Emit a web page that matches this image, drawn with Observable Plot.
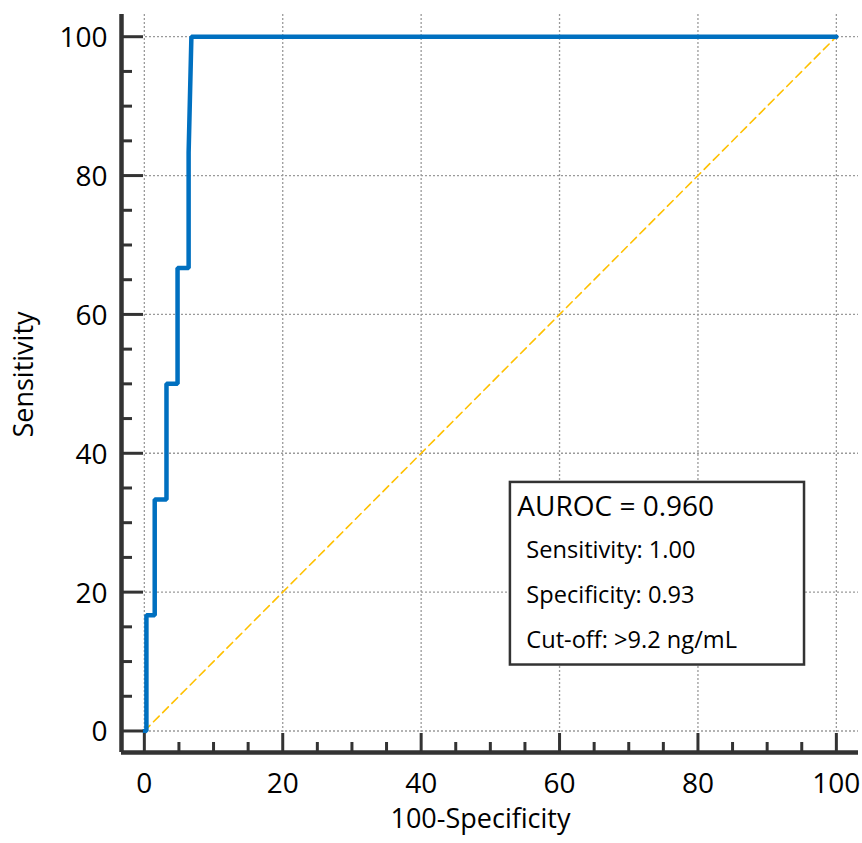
<!DOCTYPE html>
<html>
<head>
<meta charset="utf-8">
<script src="https://cdn.jsdelivr.net/npm/d3@7"></script>
<script src="https://cdn.jsdelivr.net/npm/@observablehq/plot@0.6"></script>
<style>
  html, body { margin: 0; padding: 0; background: #fff; }
  #chart svg { display: block; }
</style>
</head>
<body>
<div id="chart"></div>
<script>
// ROC curve points (100-Specificity, Sensitivity)
const fpr = [0, 0.3, 0.3, 1.5, 1.5, 3.2, 3.2, 4.8, 4.8, 6.4, 6.4, 6.8, 100];
const tpr = [0, 0, 16.67, 16.67, 33.33, 33.33, 50, 50, 66.67, 66.67, 83.33, 100, 100];
// reference diagonal
const diagX = [0, 100];
const diagY = [0, 100];
// ticks
const majorTicks = [0, 20, 40, 60, 80, 100];
const minorTicks = [5, 10, 15, 25, 30, 35, 45, 50, 55, 65, 70, 75, 85, 90, 95];
// labels
const xLabel = "100-Specificity";
const yLabel = "Sensitivity";
const aurocLabel = "AUROC = 0.960";
const statLines = ["Sensitivity: 1.00", "Specificity: 0.93", "Cut-off: >9.2 ng/mL"];

const roc = fpr.map((x, i) => ({x, y: tpr[i]}));
const diag = diagX.map((x, i) => ({x, y: diagY[i]}));

const xDom = [-3.3, 103.2];
const yDom = [-3.1, 103.2];
const W = 862, H = 843;
const mL = 121, mR = 4, mT = 14, mB = 91;
const frameW = W - mL - mR, frameH = H - mT - mB;
const axisColor = "#333";
const font = "'Open Sans', sans-serif";

const chart = Plot.plot({
  width: W,
  height: H,
  marginLeft: mL,
  marginRight: mR,
  marginTop: mT,
  marginBottom: mB,
  style: {fontFamily: font, fontSize: "27px", color: "#000", background: "#fff"},
  x: {domain: xDom},
  y: {domain: yDom},
  marks: [
    Plot.gridX(majorTicks, {stroke: "#9a9a9a", strokeOpacity: 1, strokeWidth: 1.3, strokeDasharray: "2,2"}),
    Plot.gridY(majorTicks, {stroke: "#9a9a9a", strokeOpacity: 1, strokeWidth: 1.3, strokeDasharray: "2,2"}),
    Plot.line(diag, {x: "x", y: "y", stroke: "#FFC000", strokeWidth: 1.6, strokeDasharray: "8,5"}),
    Plot.line(roc, {x: "x", y: "y", stroke: "#0070C0", strokeWidth: 4.5, strokeLinejoin: "miter"}),
    // annotation box
    Plot.rect([0], {x1: 52.9, x2: 95.4, y1: 9.5, y2: 35.8, fill: "#fff", stroke: axisColor, strokeWidth: 2.5}),
    Plot.text([aurocLabel], {x: 53.9, y: 31.0, text: d => d, textAnchor: "start", lineAnchor: "bottom", fontSize: 28, fill: "#000"}),
    Plot.text(statLines, {x: 55.2, y: (d, i) => 24.9 - i * 6.45, text: d => d, textAnchor: "start", lineAnchor: "bottom", fontSize: 23.6, fill: "#000"}),
    // ticks (pointing inward)
    Plot.tickY(majorTicks, {y: d => d, stroke: axisColor, strokeWidth: 3, insetRight: frameW - 22}),
    Plot.tickY(minorTicks, {y: d => d, stroke: axisColor, strokeWidth: 3, insetRight: frameW - 11}),
    Plot.tickX(majorTicks, {x: d => d, stroke: axisColor, strokeWidth: 3, insetTop: frameH - 19}),
    Plot.tickX(minorTicks, {x: d => d, stroke: axisColor, strokeWidth: 3, insetTop: frameH - 10}),
    // axis lines
    Plot.ruleX([xDom[0]], {stroke: axisColor, strokeWidth: 4.5}),
    Plot.ruleY([yDom[0]], {stroke: axisColor, strokeWidth: 4.5}),
    // tick labels
    Plot.axisX(majorTicks, {tickSize: 0, tickPadding: 21, fontSize: 28, label: null}),
    Plot.axisY(majorTicks, {tickSize: 0, tickPadding: 14, fontSize: 28, dy: 1.5, label: null}),
    // axis titles
    Plot.text([xLabel], {frameAnchor: "bottom", text: d => d, dx: -9.5, dy: 75, textAnchor: "middle", lineAnchor: "bottom", fontSize: 27, fill: "#000"}),
    Plot.text([yLabel], {frameAnchor: "left", text: d => d, rotate: -90, dx: -89, dy: -9, textAnchor: "middle", lineAnchor: "bottom", fontSize: 27, fill: "#000"})
  ]
});
document.getElementById("chart").appendChild(chart);
</script>
</body>
</html>
